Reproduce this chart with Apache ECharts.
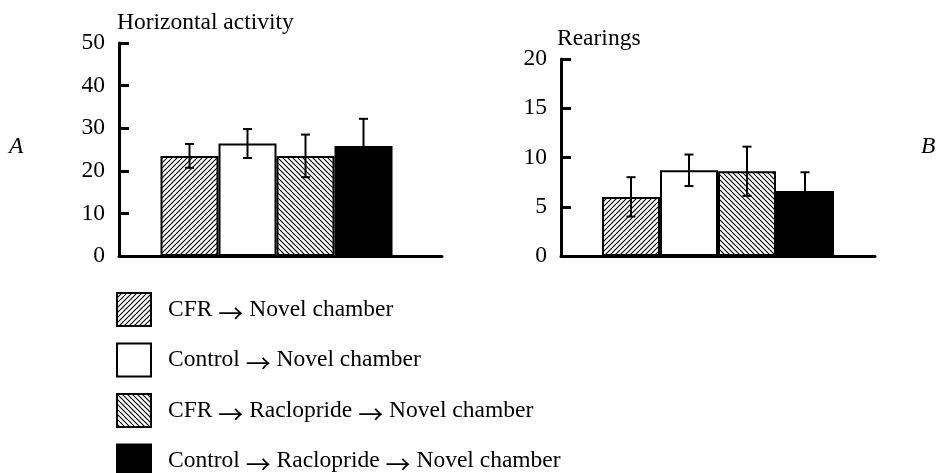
<!DOCTYPE html>
<html>
<head>
<meta charset="utf-8">
<script src="https://cdn.jsdelivr.net/npm/echarts@6/dist/echarts.min.js"></script>
<style>
html,body{margin:0;padding:0;background:#fff;}
#chart{width:937px;height:473px;}
</style>
</head>
<body>
<div id="chart"></div>
<script>
// ---- data ----
const groups = ['CFR \u2192 Novel chamber', 'Control \u2192 Novel chamber', 'CFR \u2192 Raclopride \u2192 Novel chamber', 'Control \u2192 Raclopride \u2192 Novel chamber'];
const horizontalMean = [23.5, 26.4, 23.5, 25.8];
const horizontalErr  = [2.8, 3.4, 5.0, 6.4];
const rearingsMean   = [6.0, 8.7, 8.6, 6.6];
const rearingsErr    = [2.0, 1.6, 2.5, 1.9];
const horizontalTicks = {min: 0, max: 50, interval: 10};
const rearingsTicks   = {min: 0, max: 20, interval: 5};

// ---- styles ----
const FONT = '"Liberation Serif", "DejaVu Serif", serif';
const BAR_W = 58;
function hatch(dir) {
  const s = 5;
  const c = document.createElement('canvas');
  c.width = s; c.height = s;
  const ctx = c.getContext('2d');
  ctx.fillStyle = '#fff'; ctx.fillRect(0, 0, s, s);
  ctx.strokeStyle = '#000'; ctx.lineWidth = 1.1;
  ctx.beginPath();
  if (dir > 0) {
    ctx.moveTo(-1, s + 1); ctx.lineTo(s + 1, -1);
    ctx.moveTo(-1, 1); ctx.lineTo(1, -1);
    ctx.moveTo(s - 1, s + 1); ctx.lineTo(s + 1, s - 1);
  } else {
    ctx.moveTo(-1, -1); ctx.lineTo(s + 1, s + 1);
    ctx.moveTo(s - 1, -1); ctx.lineTo(s + 1, 1);
    ctx.moveTo(-1, s - 1); ctx.lineTo(1, s + 1);
  }
  ctx.stroke();
  return {image: c, repeat: 'repeat'};
}
const fills = [hatch(1), '#ffffff', hatch(-1), '#000000'];

const chart = echarts.init(document.getElementById('chart'), null, {renderer: 'canvas'});

function yAxis(gridIndex, t) {
  return {
    type: 'value', gridIndex, min: t.min, max: t.max, interval: t.interval,
    splitLine: {show: false},
    axisLine: {show: true, lineStyle: {color: '#000', width: 3}},
    axisTick: {show: true, inside: true, length: 10, lineStyle: {color: '#000', width: 3}},
    axisLabel: {color: '#000', fontFamily: FONT, fontSize: 23.5, margin: 14}
  };
}
function xAxis(gridIndex) {
  return {
    type: 'category', gridIndex, data: [''],
    axisLine: {show: true, lineStyle: {color: '#000', width: 3}},
    axisTick: {show: false}, axisLabel: {show: false}, splitLine: {show: false}
  };
}
function barSeries(axisIndex, means) {
  return means.map((v, i) => ({
    name: groups[i], type: 'bar', xAxisIndex: axisIndex, yAxisIndex: axisIndex,
    data: [v], barWidth: BAR_W, barGap: '0%',
    itemStyle: {color: fills[i], borderColor: '#000', borderWidth: 2},
    emphasis: {disabled: true}, z: 2
  }));
}
function errSeries(axisIndex, means, errs, firstOffset) {
  return {
    type: 'custom', xAxisIndex: axisIndex, yAxisIndex: axisIndex, z: 5,
    data: means.map((v, i) => [0, v, errs[i], i]),
    encode: {x: 0, y: 1},
    silent: true,
    renderItem: function (params, api) {
      const v = api.value(1), e = api.value(2), i = api.value(3);
      const c = api.coord([0, v]);
      const x = c[0] + firstOffset + BAR_W * i;
      const top = api.coord([0, v + e])[1];
      const bot = api.coord([0, v - e])[1];
      const st = {stroke: '#000', lineWidth: 2};
      return {type: 'group', children: [
        {type: 'line', shape: {x1: x, y1: top, x2: x, y2: bot}, style: st},
        {type: 'line', shape: {x1: x - 4.5, y1: top, x2: x + 4.5, y2: top}, style: st},
        {type: 'line', shape: {x1: x - 4.5, y1: bot, x2: x + 4.5, y2: bot}, style: st}
      ]};
    }
  };
}

const series = [].concat(
  barSeries(0, horizontalMean),
  [{name: 'spacer', type: 'bar', xAxisIndex: 0, yAxisIndex: 0, data: [null], barWidth: 8, barGap: '0%', silent: true}],
  barSeries(1, rearingsMean),
  [errSeries(0, horizontalMean, horizontalErr, -(4 * BAR_W + 8) / 2 + BAR_W / 2),
   errSeries(1, rearingsMean, rearingsErr, -(4 * BAR_W) / 2 + BAR_W / 2)]
);

chart.setOption({
  animation: false,
  backgroundColor: '#fff',
  grid: [
    {left: 119, top: 43, width: 323, bottom: 217},
    {left: 561, top: 59, width: 314, bottom: 217}
  ],
  xAxis: [xAxis(0), xAxis(1)],
  yAxis: [yAxis(0, horizontalTicks), yAxis(1, rearingsTicks)],
  legend: {
    data: groups, orient: 'vertical', left: 116, top: 292, padding: 0,
    width: 500, height: 260,
    itemWidth: 34, itemHeight: 33, itemGap: 15.5, icon: 'rect',
    selectedMode: false,
    formatter: function (name) { return name.split(' \u2192 ').join(' {a|\u2192} '); },
    textStyle: {
      color: '#000', fontFamily: FONT, fontSize: 23.5, lineHeight: 33, padding: [0, 0, 0, 12],
      rich: {a: {fontFamily: '"Noto Sans CJK SC"', fontSize: 25, lineHeight: 30, verticalAlign: 'bottom', color: '#000'}}
    }
  },
  graphic: [
    {type: 'text', left: 117, top: 11, style: {text: 'Horizontal activity', fill: '#000', font: '23.5px ' + FONT}},
    {type: 'text', left: 557, top: 27, style: {text: 'Rearings', fill: '#000', font: '23.5px ' + FONT}},
    {type: 'text', left: 9, top: 135, style: {text: 'A', fill: '#000', font: 'italic 23.5px ' + FONT}},
    {type: 'text', left: 921, top: 135, style: {text: 'B', fill: '#000', font: 'italic 23.5px ' + FONT}}
  ],
  series: series
});
</script>
</body>
</html>
